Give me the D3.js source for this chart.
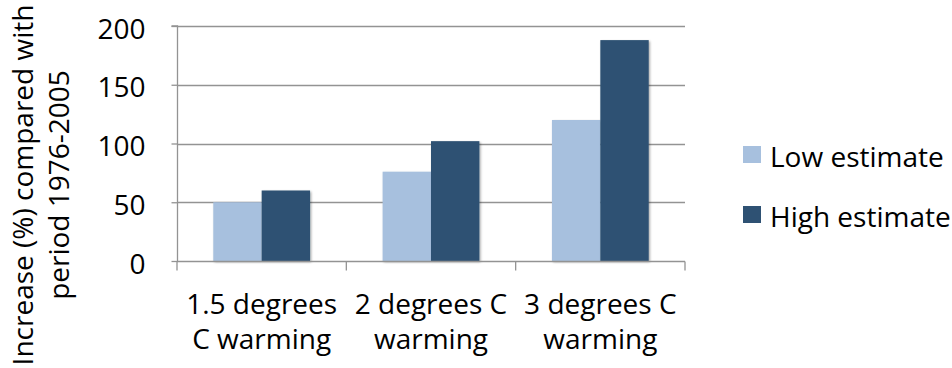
<!DOCTYPE html>
<html>
<head>
<meta charset="utf-8">
<script src="https://cdn.jsdelivr.net/npm/d3@7"></script>
<style>
  html, body { margin: 0; padding: 0; background: #fff; }
  svg { display: block; font-family: "Open Sans", "Noto Sans", sans-serif; }
</style>
</head>
<body>
<svg id="chart" width="952" height="368"></svg>
<script>
// Projected increase relative to 1976-2005, by warming scenario
const categories = [["1.5 degrees", "C warming"], ["2 degrees C", "warming"], ["3 degrees C", "warming"]];
const seriesNames = ["Low estimate", "High estimate"];
const lowEstimate = [50, 76, 120];
const highEstimate = [60, 102, 188];
const yTicks = [0, 50, 100, 150, 200];
const yTitle = ["Increase (%) compared with", "period 1976-2005"];

const colors = ["#A7C0DE", "#2E5173"];
const axisColor = "#939393";
const fontSize = 28;
const svg = d3.select("#chart");

const plot = { left: 177, right: 685, top: 26, bottom: 261 };

const keys = categories.map((c, i) => i);
const x0 = d3.scaleBand().domain(keys).range([plot.left, plot.right]).padding(0);
// two bars per group with a 150% gap width between groups
const barW = x0.bandwidth() / 3.5;
const y = d3.scaleLinear().domain([0, 200]).range([plot.bottom, plot.top]);

const defs = svg.append("defs");
const f = defs.append("filter").attr("id", "shadow").attr("x", "-10%").attr("y", "-10%").attr("width", "130%").attr("height", "130%");
f.append("feDropShadow").attr("dx", 1.2).attr("dy", 1.2).attr("stdDeviation", 1.2).attr("flood-color", "#000").attr("flood-opacity", 0.35);

// gridlines
svg.append("g")
  .selectAll("line")
  .data(yTicks.filter(d => d > 0))
  .join("line")
  .attr("x1", plot.left).attr("x2", plot.right)
  .attr("y1", d => Math.round(y(d)) + 0.5).attr("y2", d => Math.round(y(d)) + 0.5)
  .attr("stroke", axisColor).attr("stroke-width", 1.3);

// bars
const series = [lowEstimate, highEstimate];
const groups = svg.append("g");
series.forEach((vals, s) => {
  groups.append("g")
    .selectAll("rect")
    .data(vals.map((v, i) => ({ v, i })))
    .join("rect")
    .attr("x", d => x0(d.i) + x0.bandwidth() / 2 - barW + s * barW)
    .attr("y", d => y(d.v))
    .attr("width", barW)
    .attr("height", d => y(0) - y(d.v))
    .attr("fill", colors[s])
    .attr("filter", "url(#shadow)");
});

// y axis
const yAxis = svg.append("g")
  .attr("transform", `translate(${plot.left + 0.5},0)`)
  .call(d3.axisLeft(y).tickValues(yTicks).tickSize(6).tickPadding(26));
yAxis.select(".domain").attr("stroke", axisColor).attr("stroke-width", 1.3).attr("d", `M-6,${y(200)}H0V${y(0)}`);
yAxis.selectAll(".tick line").attr("stroke", axisColor).attr("stroke-width", 1.3);
yAxis.selectAll(".tick text").attr("font-size", fontSize).attr("dy", "0.43em")
  .attr("fill", "#000").attr("font-family", "'Open Sans', sans-serif");

// x axis
const xAxis = svg.append("g")
  .attr("transform", `translate(0,${plot.bottom + 0.5})`)
  .call(d3.axisBottom(x0).tickSize(0).tickFormat(""));
xAxis.select(".domain").remove();
xAxis.append("line").attr("x1", plot.left).attr("x2", plot.right)
  .attr("stroke", axisColor).attr("stroke-width", 1.3);
xAxis.selectAll(".bound")
  .data([...keys.map(k => x0(k)), plot.right])
  .join("line")
  .attr("x1", d => d).attr("x2", d => d)
  .attr("y1", 0).attr("y2", 9)
  .attr("stroke", axisColor).attr("stroke-width", 1.3);

const xLabels = svg.append("g")
  .selectAll("text")
  .data(categories)
  .join("text")
  .attr("text-anchor", "middle")
  .attr("font-size", fontSize)
  .attr("fill", "#000")
  .attr("transform", (d, i) => `translate(${x0(i) + x0.bandwidth() / 2},0)`);
xLabels.selectAll("tspan")
  .data(d => d)
  .join("tspan")
  .attr("x", 0)
  .attr("y", (d, j) => 314 + j * 35)
  .text(d => d);

// y axis title
const yt = svg.append("text")
  .attr("transform", "translate(0,185) rotate(-90)")
  .attr("text-anchor", "middle")
  .attr("font-size", fontSize)
  .attr("fill", "#000");
yt.selectAll("tspan")
  .data(yTitle)
  .join("tspan")
  .attr("x", 0)
  .attr("y", (d, j) => 33 + j * 36)
  .text(d => d);

// legend
const legend = svg.append("g");
seriesNames.forEach((name, s) => {
  const g = legend.append("g").attr("transform", `translate(743,${146 + s * 60})`);
  g.append("rect").attr("width", 18).attr("height", 17).attr("fill", colors[s]);
  g.append("text").attr("x", 27).attr("y", 21).attr("font-size", fontSize).attr("fill", "#000").text(name);
});
</script>
</body>
</html>
